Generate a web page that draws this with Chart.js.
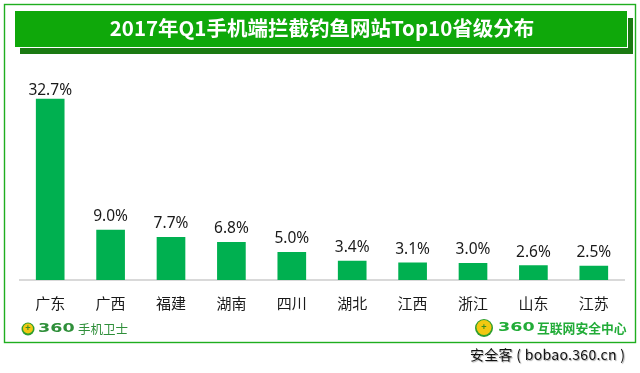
<!DOCTYPE html>
<html>
<head>
<meta charset="utf-8">
<style>
html, body { margin: 0; padding: 0; background: #fff; }
canvas { display: block; }
</style>
<script src="https://cdn.jsdelivr.net/npm/chart.js@4"></script>
</head>
<body>
<canvas id="phishChart" width="640" height="373"></canvas>
<script>
const chartTitle = '2017年Q1手机端拦截钓鱼网站Top10省级分布';
const provinces = ['广东', '广西', '福建', '湖南', '四川', '湖北', '江西', '浙江', '山东', '江苏'];
const shares = [32.7, 9.0, 7.7, 6.8, 5.0, 3.4, 3.1, 3.0, 2.6, 2.5];

const cjkFont = '"Noto Sans CJK SC", "Noto Sans", sans-serif';

function drawLogo(ctx, x, y, r) {
    ctx.fillStyle = '#2e9e2e';
    ctx.beginPath();
    ctx.arc(x, y, r, 0, Math.PI * 2);
    ctx.fill();
    ctx.fillStyle = '#f2c811';
    ctx.beginPath();
    ctx.arc(x, y - 0.5, r - 1.5, 0, Math.PI * 2);
    ctx.fill();
    ctx.fillStyle = '#3a8f1e';
    ctx.font = 'bold 9px ' + cjkFont;
    ctx.textAlign = 'center';
    ctx.textBaseline = 'middle';
    ctx.fillText('+', x, y - 1);
}

// the 360 in the logos is a wide face, so stretch it
function drawWide360(ctx, x, y, size, stretch) {
    ctx.save();
    ctx.translate(x, y);
    ctx.scale(stretch, 1);
    ctx.font = 'bold ' + size + 'px "DejaVu Sans", sans-serif';
    ctx.fillText('360', 0, 0);
    ctx.restore();
}

// frame, banner and logos go behind the chart
const backdrop = {
    id: 'backdrop',
    beforeDraw(chart) {
        const ctx = chart.ctx;
        ctx.save();
        ctx.fillStyle = '#ffffff';
        ctx.fillRect(0, 0, 640, 373);
        ctx.strokeStyle = '#1fae1f';
        ctx.lineWidth = 1.4;
        ctx.strokeRect(4.5, 4.5, 631, 338);
        ctx.fillStyle = '#1b7a12';
        ctx.fillRect(20, 18, 613, 36);
        ctx.fillStyle = '#ffffff';
        ctx.fillRect(14, 10, 614, 38);
        ctx.fillStyle = '#0fa80a';
        ctx.fillRect(15, 11, 612, 36);
        ctx.restore();
    },
    afterDraw(chart) {
        const ctx = chart.ctx;
        ctx.save();
        drawLogo(ctx, 28, 329, 6.5);
        drawLogo(ctx, 484, 328, 9);
        ctx.textAlign = 'left';
        ctx.textBaseline = 'middle';
        ctx.fillStyle = '#2f8f3a';
        drawWide360(ctx, 38, 329, 13, 1.35);
        ctx.font = '12.5px ' + cjkFont;
        ctx.fillText('手机卫士', 78, 329);
        ctx.fillStyle = '#22ac38';
        drawWide360(ctx, 498, 328, 13, 1.35);
        ctx.font = 'bold 12.8px ' + cjkFont;
        ctx.fillText('互联网安全中心', 537, 328);
        ctx.fillStyle = '#111111';
        ctx.font = '14px ' + cjkFont;
        ctx.letterSpacing = '0.3px';
        ctx.shadowColor = 'rgba(0, 0, 0, 0.35)';
        ctx.shadowBlur = 1;
        ctx.shadowOffsetX = 1;
        ctx.shadowOffsetY = 1;
        ctx.fillText('安全客 ( bobao.360.cn )', 470, 355);
        ctx.restore();
    }
};

const valueLabels = {
    id: 'valueLabels',
    afterDatasetsDraw(chart) {
        const ctx = chart.ctx;
        const meta = chart.getDatasetMeta(0);
        ctx.save();
        ctx.fillStyle = '#1a1a1a';
        ctx.font = '15.5px "Noto Sans", sans-serif';
        ctx.textAlign = 'center';
        ctx.textBaseline = 'alphabetic';
        meta.data.forEach((bar, i) => {
            // the tallest label sits closer to its bar in the original
            const gap = i === 0 ? 4 : 9;
            ctx.fillText(shares[i].toFixed(1) + '%', bar.x, bar.y - gap);
        });
        ctx.restore();
    }
};

new Chart(document.getElementById('phishChart').getContext('2d'), {
    type: 'bar',
    data: {
        labels: provinces,
        datasets: [{
            data: shares,
            backgroundColor: '#00b050',
            barThickness: 28
        }]
    },
    options: {
        responsive: false,
        animation: false,
        layout: { padding: { left: 20, right: 16, top: 0, bottom: 47 } },
        plugins: {
            legend: { display: false },
            tooltip: { enabled: false },
            title: {
                display: true,
                text: chartTitle,
                color: '#ffffff',
                font: { family: cjkFont, size: 20.5, weight: 'bold' },
                padding: { top: 16, bottom: 18 }
            }
        },
        scales: {
            x: {
                grid: { display: false, drawTicks: false },
                border: { color: '#d9d9d9', width: 2 },
                ticks: { color: '#1a1a1a', font: { family: cjkFont, size: 15 }, padding: 14, maxRotation: 0 }
            },
            y: {
                display: false,
                min: 0,
                max: 40
            }
        }
    },
    plugins: [backdrop, valueLabels]
});
</script>
</body>
</html>
